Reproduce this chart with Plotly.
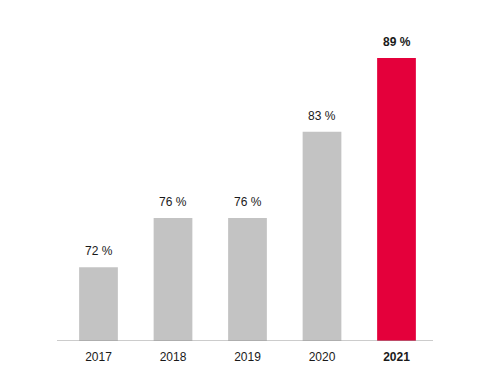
import plotly.graph_objects as go

years = ["2017", "2018", "2019", "2020", "2021"]
values = [72, 76, 76, 83, 89]
labels = ["72 %", "76 %", "76 %", "83 %", "89 %"]
tick_labels = ["2017", "2018", "2019", "2020", "<b>2021</b>"]
colors = ["#C3C3C3", "#C3C3C3", "#C3C3C3", "#C3C3C3", "#E4003B"]

fig = go.Figure()
fig.add_trace(go.Bar(
    x=list(range(len(years))), y=values,
    marker=dict(color=colors, line=dict(width=0)),
    width=0.52, hoverinfo="skip", base=0,
))
for i, (v, t) in enumerate(zip(values, labels)):
    fig.add_annotation(
        x=i, y=v, text=("<b>%s</b>" % t) if i == len(values) - 1 else t,
        showarrow=False, yanchor="bottom", yshift=7,
        font=dict(family="Liberation Sans, Arial, sans-serif", size=12, color="#1a1a1a"),
    )

fig.update_layout(
    width=496, height=392,
    margin=dict(l=49, r=71, t=13, b=59),
    plot_bgcolor="white", paper_bgcolor="white",
    showlegend=False,
    font=dict(family="Liberation Sans, Arial, sans-serif", size=12, color="#1a1a1a"),
    xaxis=dict(
        range=[-0.557, 4.49], tickvals=list(range(len(years))), ticktext=tick_labels,
        showgrid=False, zeroline=False, showline=False, ticks="",
        ticklabelstandoff=7,
        tickfont=dict(size=12, color="#1a1a1a"),
    ),
    yaxis=dict(range=[66, 92], visible=False),
    shapes=[dict(type="line", xref="paper", yref="y", x0=0, x1=1, y0=66, y1=66,
                 line=dict(color="#999999", width=1))],
)

fig.write_html("out.html")
